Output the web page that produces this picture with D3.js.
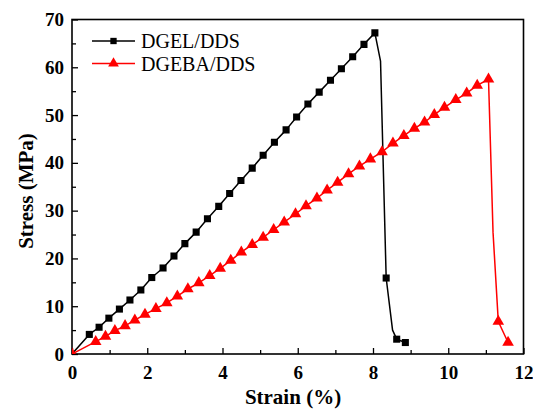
<!DOCTYPE html>
<html>
<head>
<meta charset="utf-8">
<script src="https://cdn.jsdelivr.net/npm/d3@7"></script>
<style>
  html, body { margin: 0; padding: 0; background: #ffffff; }
  svg { display: block; }
</style>
</head>
<body>
<div id="chart"></div>
<script>
// ---- data ----
const seriesNames = ["DGEL/DDS", "DGEBA/DDS"];
const xTicks = [0, 2, 4, 6, 8, 10, 12];
const yTicks = [0, 10, 20, 30, 40, 50, 60, 70];

const dgelStrain = [0, 0.46, 0.72, 0.98, 1.26, 1.54, 1.83, 2.12, 2.42, 2.71, 3.00, 3.30, 3.60, 3.90, 4.19, 4.49, 4.79, 5.08, 5.38, 5.69, 5.97, 6.27, 6.57, 6.87, 7.16, 7.46, 7.76, 8.05, 8.20, 8.35, 8.52, 8.63, 8.86];
const dgelStress = [0, 4.1, 5.6, 7.5, 9.4, 11.3, 13.4, 16.0, 18.0, 20.5, 23.1, 25.5, 28.3, 30.9, 33.6, 36.3, 38.9, 41.6, 44.3, 46.9, 49.6, 52.3, 54.8, 57.3, 59.7, 62.2, 64.8, 67.2, 61.3, 15.9, 5.0, 3.1, 2.4];
const dgelMarked = [0, 1, 1, 1, 1, 1, 1, 1, 1, 1, 1, 1, 1, 1, 1, 1, 1, 1, 1, 1, 1, 1, 1, 1, 1, 1, 1, 1, 0, 1, 0, 1, 1];

const dgebaStrain = [0, 0.63, 0.89, 1.14, 1.41, 1.67, 1.94, 2.23, 2.52, 2.80, 3.08, 3.37, 3.66, 3.94, 4.22, 4.50, 4.79, 5.08, 5.36, 5.64, 5.94, 6.22, 6.51, 6.78, 7.06, 7.35, 7.64, 7.93, 8.24, 8.53, 8.82, 9.10, 9.37, 9.63, 9.90, 10.20, 10.49, 10.77, 11.07, 11.19, 11.33, 11.59];
const dgebaStress = [0, 2.6, 3.7, 4.9, 5.9, 7.1, 8.3, 9.5, 10.7, 12.1, 13.6, 14.9, 16.4, 17.9, 19.6, 21.3, 22.9, 24.4, 26.0, 27.6, 29.3, 31.0, 32.6, 34.3, 35.9, 37.7, 39.3, 40.8, 42.3, 44.1, 45.7, 47.2, 48.5, 50.1, 51.6, 53.2, 54.6, 56.2, 57.5, 25.5, 6.8, 2.4];
const dgebaMarked = [1, 1, 1, 1, 1, 1, 1, 1, 1, 1, 1, 1, 1, 1, 1, 1, 1, 1, 1, 1, 1, 1, 1, 1, 1, 1, 1, 1, 1, 1, 1, 1, 1, 1, 1, 1, 1, 1, 1, 0, 1, 1];

// ---- layout ----
const W = 533, H = 410;
const pLeft = 72, pRight = 523.5, pTop = 19.5, pBottom = 354;
const serif = '"Liberation Serif", Tinos, "DejaVu Serif", "Noto Serif", FreeSerif, "Nimbus Roman", "Times New Roman", Times, serif';

const svg = d3.select("#chart").append("svg").attr("width", W).attr("height", H);
svg.append("rect").attr("width", W).attr("height", H).attr("fill", "#ffffff");

const x = d3.scaleLinear().domain([0, 12]).range([pLeft, pRight]);
const y = d3.scaleLinear().domain([0, 70]).range([pBottom, pTop]);

svg.append("defs").append("clipPath").attr("id", "plotclip")
  .append("rect").attr("x", pLeft).attr("y", pTop).attr("width", pRight - pLeft).attr("height", pBottom - pTop);

// axes (ticks inward)
const xAxis = svg.append("g").attr("transform", `translate(0,${pBottom})`)
  .call(d3.axisBottom(x).tickValues(xTicks).tickSizeInner(-6).tickSizeOuter(0).tickPadding(12).tickFormat(d3.format("d")));
const xMinor = svg.append("g").attr("transform", `translate(0,${pBottom})`)
  .call(d3.axisBottom(x).tickValues(d3.range(1, 12, 2)).tickSize(-4).tickFormat(""));
const yAxis = svg.append("g").attr("transform", `translate(${pLeft},0)`)
  .call(d3.axisLeft(y).tickValues(yTicks).tickSizeInner(-6).tickSizeOuter(0).tickPadding(8).tickFormat(d3.format("d")));
const yMinor = svg.append("g").attr("transform", `translate(${pLeft},0)`)
  .call(d3.axisLeft(y).tickValues(d3.range(5, 70, 10)).tickSize(-4).tickFormat(""));

[xAxis, xMinor, yAxis, yMinor].forEach(g => {
  g.attr("font-family", serif).attr("font-size", 19).attr("font-weight", "bold");
  g.select(".domain").remove();
  g.selectAll("line").attr("stroke", "#000").attr("stroke-width", 1.3);
  g.selectAll("text").attr("fill", "#000");
});

// frame
svg.append("rect").attr("x", pLeft).attr("y", pTop).attr("width", pRight - pLeft).attr("height", pBottom - pTop)
  .attr("fill", "none").attr("stroke", "#000").attr("stroke-width", 1.6);

// series
const line = d3.line().x(d => x(d[0])).y(d => y(d[1]));
const plot = svg.append("g").attr("clip-path", "url(#plotclip)");

function drawSeries(xs, ys, marks, color, shape, size) {
  const pts = xs.map((v, i) => [v, ys[i], marks[i]]);
  plot.append("path").datum(pts).attr("d", line)
    .attr("fill", "none").attr("stroke", color).attr("stroke-width", 1.5).attr("stroke-linejoin", "round");
  const sym = d3.symbol().type(shape).size(size);
  plot.selectAll(null).data(pts.filter(p => p[2] === 1)).enter().append("path")
    .attr("d", sym)
    .attr("transform", d => `translate(${x(d[0])},${y(d[1])})`)
    .attr("fill", color).attr("stroke", "none");
}
drawSeries(dgelStrain, dgelStress, dgelMarked, "#000000", d3.symbolSquare, 50);
drawSeries(dgebaStrain, dgebaStress, dgebaMarked, "#ff0000", d3.symbolTriangle, 58);

// legend
const legend = svg.append("g").attr("font-family", serif).attr("font-size", 20);
const legColors = ["#000000", "#ff0000"];
const legShapes = [d3.symbolSquare, d3.symbolTriangle];
const legSizes = [40, 50];
seriesNames.forEach((name, i) => {
  const ly = 41 + i * 22.5;
  legend.append("line").attr("x1", 92).attr("x2", 135).attr("y1", ly).attr("y2", ly)
    .attr("stroke", legColors[i]).attr("stroke-width", 1.5);
  legend.append("path").attr("d", d3.symbol().type(legShapes[i]).size(legSizes[i])())
    .attr("transform", `translate(113.5,${ly})`).attr("fill", legColors[i]);
  legend.append("text").attr("x", 141).attr("y", ly + 7).text(name).attr("fill", "#000");
});

// axis titles
svg.append("text").attr("x", 293).attr("y", 404).attr("text-anchor", "middle")
  .attr("font-family", serif).attr("font-weight", "bold").attr("font-size", 21).text("Strain (%)");
svg.append("text").attr("transform", `translate(33,191) rotate(-90)`).attr("text-anchor", "middle")
  .attr("font-family", serif).attr("font-weight", "bold").attr("font-size", 21).text("Stress (MPa)");
</script>
</body>
</html>
